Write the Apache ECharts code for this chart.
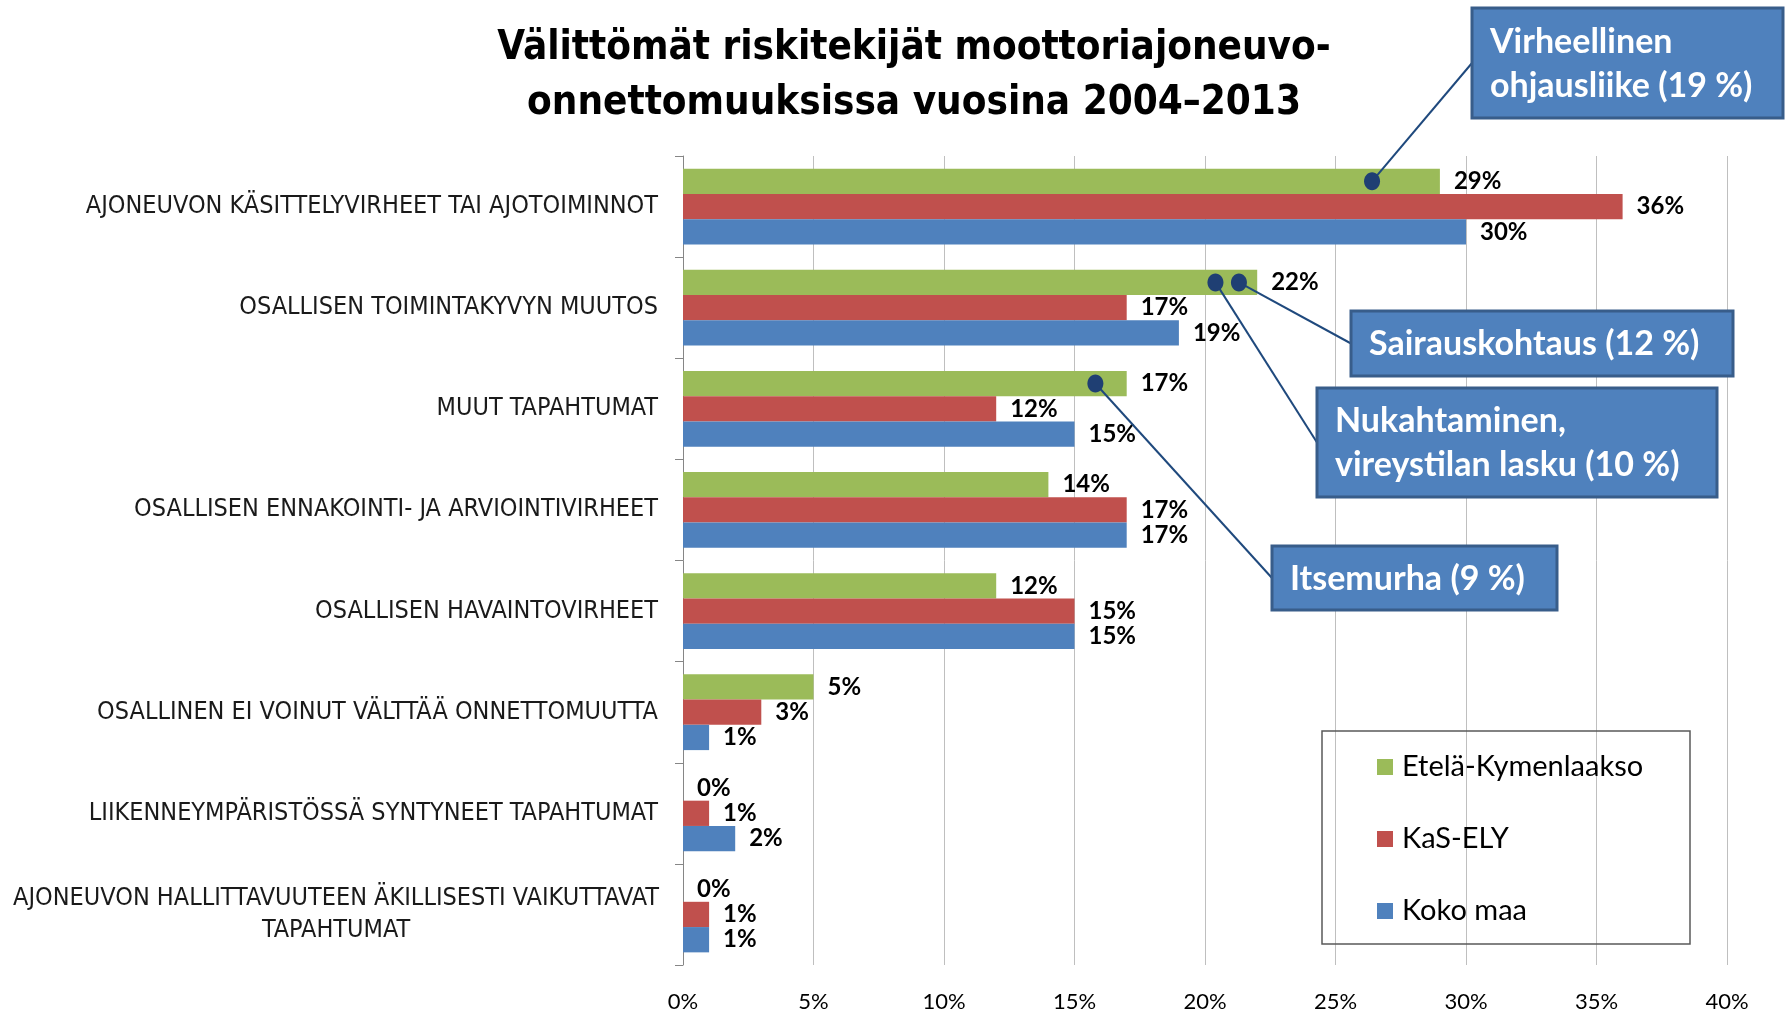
<!DOCTYPE html>
<html>
<head>
<meta charset="utf-8">
<script src="https://cdn.jsdelivr.net/npm/echarts@6/dist/echarts.min.js"></script>
<style>html,body{margin:0;padding:0;background:#fff;}#c{width:1785px;height:1014px;}</style>
</head>
<body>
<div id="c"></div>
<script>
const titleText = 'Välittömät riskitekijät moottoriajoneuvo-\nonnettomuuksissa vuosina 2004–2013';
const categories = [
  'AJONEUVON KÄSITTELYVIRHEET TAI AJOTOIMINNOT',
  'OSALLISEN TOIMINTAKYVYN MUUTOS',
  'MUUT TAPAHTUMAT',
  'OSALLISEN ENNAKOINTI- JA ARVIOINTIVIRHEET',
  'OSALLISEN HAVAINTOVIRHEET',
  'OSALLINEN EI VOINUT VÄLTTÄÄ ONNETTOMUUTTA',
  'LIIKENNEYMPÄRISTÖSSÄ SYNTYNEET TAPAHTUMAT',
  'AJONEUVON HALLITTAVUUTEEN ÄKILLISESTI VAIKUTTAVAT\nTAPAHTUMAT'
];
const seriesNames = ['Etelä-Kymenlaakso', 'KaS-ELY', 'Koko maa'];
const eteläKymenlaakso = [29, 22, 17, 14, 12, 5, 0, 0];
const kasEly = [36, 17, 12, 17, 15, 3, 1, 1];
const kokoMaa = [30, 19, 15, 17, 15, 1, 2, 1];
const xTicks = [0, 5, 10, 15, 20, 25, 30, 35, 40];

// Callouts: text, anchor value (%) on the Etelä-Kymenlaakso bar, anchor category index
const calloutTexts = ['Virheellinen\nohjausliike (19 %)', 'Sairauskohtaus (12 %)', 'Nukahtaminen,\nvireystilan lasku (10 %)', 'Itsemurha (9 %)'];
const calloutValues = [26.4, 21.3, 20.4, 15.8];
const calloutCategories = [0, 1, 1, 2];

const colors = ['#9BBB59', '#C0504D', '#4F81BD'];
const narrow = '"Liberation Sans Narrow", "Arial Narrow", "DejaVu Sans Condensed", sans-serif';
const body = 'Lato, "Open Sans", sans-serif';

const chart = echarts.init(document.getElementById('c'), null, {renderer: 'canvas'});
const barCategoryGap = 0.25;

const option = {
  animation: false,
  backgroundColor: '#fff',
  title: {
    text: titleText,
    left: 909, top: 16, textAlign: 'center',
    textStyle: {fontFamily: narrow, fontWeight: 'bold', fontSize: 40, lineHeight: 55, color: '#000'}
  },
  grid: {left: 683, right: 58, top: 156, bottom: 49, containLabel: false},
  legend: {
    data: seriesNames,
    orient: 'vertical', left: 1377, top: 751,
    itemWidth: 16, itemHeight: 16, itemGap: 40, icon: 'rect', padding: 0,
    textStyle: {fontFamily: body, fontSize: 29, lineHeight: 32, color: '#000', padding: [0, 0, 0, 4]}
  },
  xAxis: {
    type: 'value', min: xTicks[0], max: xTicks[xTicks.length - 1], interval: xTicks[1] - xTicks[0],
    axisLine: {show: false}, axisTick: {show: false},
    splitLine: {show: true, lineStyle: {color: '#BFBFBF', width: 1}},
    axisLabel: {formatter: '{value}%', margin: 26, fontFamily: body, fontSize: 22, color: '#000'}
  },
  yAxis: {
    type: 'category', inverse: true, data: categories,
    axisLine: {show: true, lineStyle: {color: '#868686', width: 1}},
    axisTick: {show: true, length: 8, lineStyle: {color: '#868686'}},
    axisLabel: {
      margin: 25, color: '#1a1a1a', fontFamily: narrow, fontSize: 25,
      formatter: function (v) {
        if (v.indexOf('\n') >= 0) {
          return v.split('\n').map(function (l) { return '{c|' + l + '}'; }).join('\n');
        }
        return v;
      },
      rich: {c: {fontFamily: narrow, fontSize: 25, color: '#1a1a1a', width: 644, align: 'center', lineHeight: 32}}
    }
  },
  series: [eteläKymenlaakso, kasEly, kokoMaa].map(function (d, i) {
    return {
      type: 'bar', name: seriesNames[i], data: d,
      barGap: '0%', barCategoryGap: (barCategoryGap * 100) + '%',
      itemStyle: {color: colors[i]},
      label: {show: true, position: 'right', distance: 14, formatter: '{c}%',
        fontFamily: body, fontWeight: 'bold', fontSize: 24, color: '#000'}
    };
  })
};
chart.setOption(option);

// Callout annotations anchored to data coordinates
const boxes = [
  {x: 1472, y: 8, w: 311, h: 110},
  {x: 1351, y: 311, w: 382, h: 65},
  {x: 1317, y: 388, w: 400, h: 109},
  {x: 1272, y: 546, w: 285, h: 64}
];
const y0 = chart.convertToPixel({gridIndex: 0}, [0, 0])[1];
const y1 = chart.convertToPixel({gridIndex: 0}, [0, 1])[1];
const band = Math.abs(y1 - y0);
const barW = band * (1 - barCategoryGap) / 3;
const graphics = [
  {type: 'rect', shape: {x: 1322, y: 731, width: 368, height: 213},
   style: {fill: 'none', stroke: '#595959', lineWidth: 1.5}, z: 1}
];
calloutTexts.forEach(function (t, i) {
  const p = chart.convertToPixel({gridIndex: 0}, [calloutValues[i], calloutCategories[i]]);
  const dx = p[0], dy = p[1] - barW;
  const b = boxes[i];
  graphics.push({type: 'line', shape: {x1: dx, y1: dy, x2: b.x, y2: b.y + b.h / 2},
    style: {stroke: '#1F497D', lineWidth: 2}, z: 10});
  graphics.push({type: 'ellipse', shape: {cx: dx, cy: dy, rx: 8, ry: 9},
    style: {fill: '#1F3F73'}, z: 11});
  graphics.push({type: 'rect', shape: {x: b.x, y: b.y, width: b.w, height: b.h},
    style: {fill: '#4F81BD', stroke: '#385D8A', lineWidth: 3}, z: 12});
  graphics.push({type: 'text', x: b.x + 18, y: b.y + b.h / 2 + 1, z: 13,
    style: {text: t, fill: '#fff', fontFamily: body, fontWeight: 'bold', fontSize: 34,
      lineHeight: 44, textVerticalAlign: 'middle', verticalAlign: 'middle', align: 'left'}});
});
chart.setOption({graphic: graphics});
</script>
</body>
</html>
